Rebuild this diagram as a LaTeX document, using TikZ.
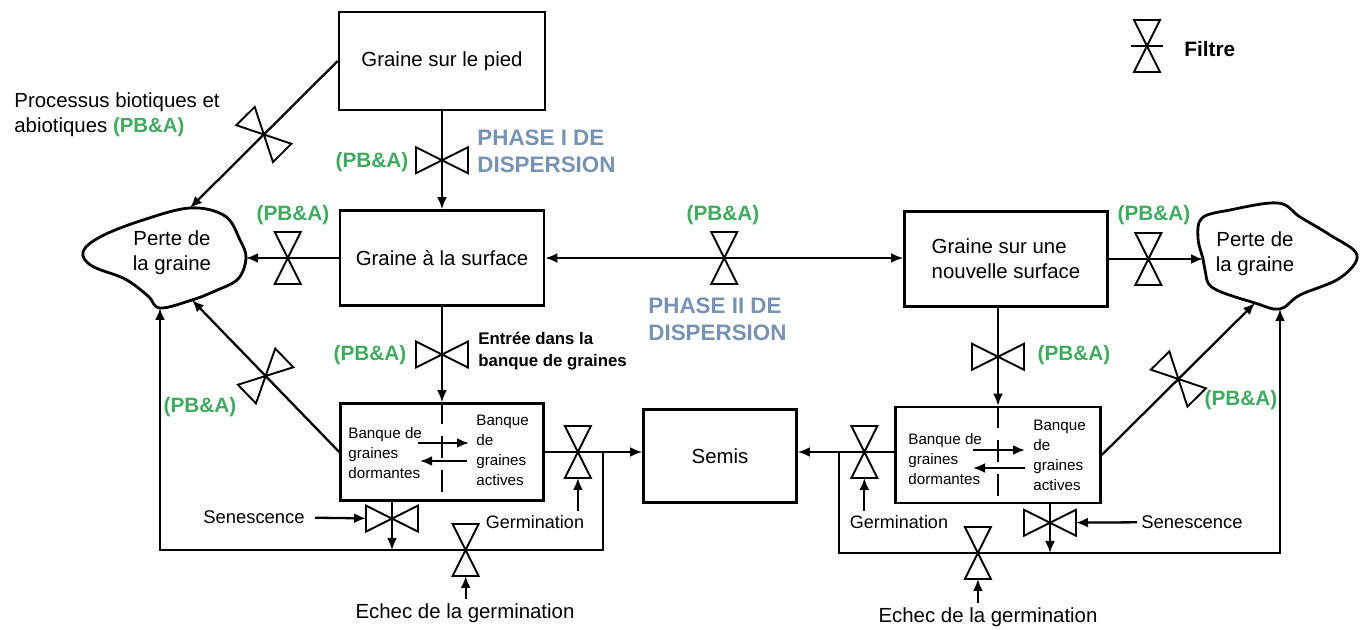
\documentclass[tikz,border=0pt]{standalone}
\usepackage{fontspec}
\setmainfont{Liberation Sans}
\usepackage{xcolor}
\usepackage{tikz}
\usetikzlibrary{positioning}
\usetikzlibrary{arrows.meta}
\pgfdeclarelayer{nodelayer}
\pgfdeclarelayer{edgelayer}
\pgfsetlayers{nodelayer,edgelayer,main}

\definecolor{vertpb}{RGB}{64,170,96}
\definecolor{bleuphase}{RGB}{120,146,178}

\tikzset{
    boite/.style={draw, line width=1.3pt, inner sep=2pt, font=\fontsize{10.2}{12.5}\selectfont},
    texte/.style={inner sep=2pt, font=\fontsize{10.2}{12.5}\selectfont},
    petit/.style={inner sep=0pt, align=left, font=\fontsize{7.6}{10}\selectfont},
    vert/.style={inner sep=1pt, text=vertpb, font=\fontsize{10.4}{12}\selectfont\bfseries},
    phase/.style={inner sep=0pt, align=left, text=bleuphase, font=\fontsize{11.2}{13.5}\selectfont\bfseries},
    filtre/.style={minimum width=13pt, minimum height=26pt, inner sep=0pt, outer sep=0pt},
    trait/.style={line width=1.15pt},
    fleche/.style={trait, -{Latex[length=6pt,width=5pt]}},
    filtretrait/.style={line width=0.95pt, line join=miter},
}

\begin{document}
\begin{tikzpicture}[x=0.5pt, y=-0.5pt]
        \useasboundingbox (0, 0) rectangle (1367, 630);
        \begin{pgfonlayer}{nodelayer}
            \node [boite, minimum width=103pt, minimum height=49pt] (0) at (442, 61) {Graine sur le pied};
            \node [boite, minimum width=102pt, minimum height=47.5pt] (1) at (442, 258) {Graine à la surface};
            \node [boite, minimum width=101.5pt, minimum height=47.5pt, align=left] (2) at (1006, 259) {Graine sur une\\nouvelle surface};
            \node [texte, align=center] (3) at (172, 253) {Perte de\\la graine};
            \node [texte, align=center] (4) at (1255, 254) {Perte de\\la graine};
            \node [boite, minimum width=101.5pt, minimum height=48.5pt] (5) at (442, 452) {};
            \node [petit, anchor=west] (6) at (348, 453) {Banque de\\graines\\dormantes};
            \node [petit, anchor=west] (7) at (476, 450) {Banque\\de\\graines\\actives};
            \node [boite, minimum width=76.5pt, minimum height=46.5pt] (8) at (720, 456) {Semis};
            \node [boite, minimum width=102.5pt, minimum height=48pt] (9) at (998, 455) {};
            \node [petit, anchor=west] (10) at (908, 459) {Banque de\\graines\\dormantes};
            \node [petit, anchor=west] (11) at (1033, 455) {Banque\\de\\graines\\actives};
            \node [texte, font=\fontsize{9.2}{11}\selectfont] (12) at (254, 517) {Senescence};
            \node [texte, font=\fontsize{9.2}{11}\selectfont] (13) at (1192, 522) {Senescence};
            \node [texte, font=\fontsize{9}{11}\selectfont] (14) at (535, 522) {Germination};
            \node [texte, font=\fontsize{9}{11}\selectfont] (15) at (899, 522) {Germination};
            \node [texte] (16) at (465, 613) {Echec de la germination};
            \node [texte] (17) at (988, 617) {Echec de la germination};
            \node [texte, anchor=west, font=\fontsize{10.4}{12}\selectfont\bfseries] (19) at (1180, 49) {Filtre};
            \node [texte, anchor=west, align=left] (20) at (10, 115) {Processus biotiques et\\abiotiques \textcolor{vertpb}{\textbf{(PB\&A)}}};
            \node [vert] (21) at (372, 162) {(PB\&A)};
            \node [vert] (22) at (293, 215) {(PB\&A)};
            \node [vert] (23) at (370, 355) {(PB\&A)};
            \node [vert] (24) at (723, 215) {(PB\&A)};
            \node [vert] (25) at (1154, 215) {(PB\&A)};
            \node [vert] (26) at (1074, 355) {(PB\&A)};
            \node [vert] (27) at (200, 407) {(PB\&A)};
            \node [vert] (28) at (1241, 400) {(PB\&A)};
            \node [phase, anchor=west] (29) at (477, 151) {PHASE I DE\\DISPERSION};
            \node [phase, anchor=west] (30) at (648, 319) {PHASE II DE\\DISPERSION};
            \node [inner sep=0pt, anchor=west, align=left, font=\fontsize{8.4}{11}\selectfont\bfseries] (31) at (478, 351) {Entrée dans la\\banque de graines};
            \node [filtre] (f16) at (1147, 46) {};
            % points sur les nuages
            \coordinate (c1) at (190, 208);
            \coordinate (c2) at (246, 258);
            \coordinate (c3) at (160, 308);
            \coordinate (c4) at (192, 300);
            \coordinate (c5) at (1203, 259);
            \coordinate (c6) at (1255, 303);
            \coordinate (c7) at (1280, 309);
            % boucles du bas
            \coordinate (j1) at (603, 452);
            \coordinate (j2) at (603, 550);
            \coordinate (j3) at (160, 550);
            \coordinate (j4) at (839, 452);
            \coordinate (j5) at (839, 553);
            \coordinate (j6) at (1280, 553);
            \coordinate (b1) at (392, 550);
            \coordinate (b2) at (1050, 553);
            % echanges dans les banques
            \coordinate (e1) at (418, 443);
            \coordinate (e2) at (469, 443);
            \coordinate (e3) at (467, 461);
            \coordinate (e4) at (420, 461);
            \coordinate (e5) at (973, 450);
            \coordinate (e6) at (1025, 450);
            \coordinate (e7) at (1025, 468);
            \coordinate (e8) at (973, 468);
        \end{pgfonlayer}
        \begin{pgfonlayer}{edgelayer}
            \draw [line width=1.4pt] plot [smooth cycle, tension=0.6] coordinates {(190, 208) (225, 216) (240, 240) (246, 258) (238, 279) (215, 291) (192, 300) (160, 308) (148, 296) (125, 279) (92, 266) (83, 252) (100, 237) (140, 221)};
            \draw [line width=1.4pt] plot [smooth cycle, tension=0.6] coordinates {(1202, 218) (1230, 210) (1278, 203) (1300, 217) (1330, 235) (1357, 255) (1340, 278) (1300, 295) (1280, 309) (1255, 303) (1213, 288) (1205, 270) (1203, 259) (1198, 238)};
            \draw [fleche] (0.west) -- node [filtre, sloped, pos=0.5] (f1) {} (c1);
            \draw [fleche] (0.south) -- node [filtre, sloped] (f2) {} (1.north);
            \draw [fleche] (1.west) -- node [filtre, sloped, pos=0.55] (f3) {} (c2);
            \draw [fleche] (1.south) -- node [filtre, sloped] (f4) {} (5.north);
            \draw [trait, {Latex[length=6pt,width=5pt]}-{Latex[length=6pt,width=5pt]}] (1.east) -- node [filtre, sloped] (f5) {} (1.east -| 2.west);
            \draw [fleche] (2.east) -- node [filtre, sloped, pos=0.42] (f6) {} (c5);
            \draw [fleche] (2.south -| 9.north) -- node [filtre, sloped] (f7) {} (9.north);
            \draw [fleche] (5.west) -- node [filtre, sloped] (f8) {} (c4);
            \draw [fleche] (9.east) -- node [filtre, sloped] (f9) {} (c6);
            \draw [fleche] (5.east) -- node [filtre, sloped, pos=0.34] (f10) {} (5.east -| 8.west);
            \draw [fleche] (9.west |- 5.east) -- node [filtre, sloped, pos=0.31] (f11) {} (8.east |- 5.east);
            \draw [fleche] (5.south -| b1) -- node [filtre, sloped, pos=0.35] (f12) {} (b1);
            \draw [fleche] (j1) -- (j2) -- node [filtre, sloped, pos=0.31] (f13) {} (j3) -- (c3);
            \draw [fleche] (9.south -| b2) -- node [filtre, sloped, pos=0.38] (f14) {} (b2);
            \draw [fleche] (j4) -- (j5) -- node [filtre, sloped, pos=0.315] (f15) {} (j6) -- (c7);
            \draw [fleche, shorten <=3pt] (12) -- (f12);
            \draw [fleche] (13) -- (f14);
            \draw [fleche] (f10 |- 14.north) -- (f10);
            \draw [fleche] (f11 |- 15.north) -- (f11);
            \draw [fleche] (f13 |- 16.north) -- (f13);
            \draw [fleche] (f15 |- 17.north) -- (f15);
            \draw [fleche] (e1) -- (e2);
            \draw [fleche] (e3) -- (e4);
            \draw [fleche] (e5) -- (e6);
            \draw [fleche] (e7) -- (e8);
            \draw [trait, dash pattern=on 11pt off 6pt] (5.north) -- (5.south);
            \draw [trait, dash pattern=on 11pt off 6pt] (9.north) -- (9.south);
            \draw [filtretrait, shorten <=-1.5pt, shorten >=-1.5pt] (f16.west) -- (f16.east);
            \foreach \i in {1,...,16}
                \draw [filtretrait] (f\i.north west) -- (f\i.south east) -- (f\i.south west) -- (f\i.north east) -- cycle;
        \end{pgfonlayer}
    \end{tikzpicture}
\end{document}
